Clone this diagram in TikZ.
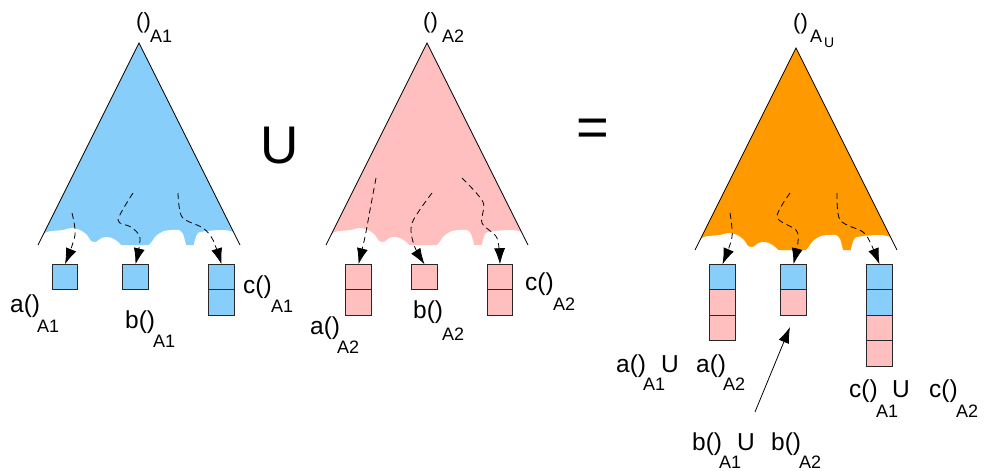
\documentclass[tikz,border=0pt]{standalone}
\usepackage{fontspec}
\setmainfont{Liberation Sans}
\usetikzlibrary{arrows.meta}
\definecolor{skyb}{RGB}{135,206,250}
\definecolor{pinkc}{RGB}{255,191,191}
\definecolor{orangec}{RGB}{255,153,0}
\definecolor{edgec}{RGB}{40,40,40}
\newcommand\coloredtri[3]{%
\begin{scope}[shift={(#1,#2)}]
\fill[#3] (0,0) -- (-101,202) -- (101,202) -- cycle;
\fill[white] plot[smooth, tension=0.5] coordinates {(-104,203) (-94,190) (-86,188) (-76,187) (-67,185) (-59,187) (-52,192) (-48,198) (-43,199) (-39,196) (-34,194) (-27,195) (-21,199) (-14,205) (-4,207) (4,206) (11,201) (17,193) (25,188) (33,187) (40,187) (44,191) (46,198) (48,205) (51,208) (54,205) (56,197) (59,190) (68,188) (84,187) (94,189) (99,195) (103,203)} -- (104,218) -- (-104,218) -- cycle;
\draw[line width=0.8pt] (-101,202) -- (0,0) -- (101,202);
\end{scope}}
\begin{document}
\begin{tikzpicture}[x=1pt,y=-1pt,
  cell/.style={draw=edgec,line width=1pt,minimum width=25.5pt,minimum height=25.5pt,inner sep=0pt,outer sep=0pt},
  blu/.style={cell,fill=skyb},
  pnk/.style={cell,fill=pinkc},
  lbl/.style={inner sep=0pt,anchor=base west,font=\fontsize{24.5}{28}\selectfont},
  sub/.style={inner sep=0pt,anchor=base west,font=\fontsize{18}{21}\selectfont},
  toplbl/.style={inner sep=0pt,anchor=base west,font=\fontsize{22}{26}\selectfont},
  dflow/.style={dashed,dash pattern=on 6pt off 4pt,line width=0.8pt,-{Latex[length=16pt,width=11pt]}},
  sflow/.style={line width=0.8pt,-{Latex[length=16pt,width=11pt]}}]
\useasboundingbox (0,0) rectangle (986,471);
% triangles
\coloredtri{139}{43}{skyb}
\coloredtri{427}{43}{pinkc}
\coloredtri{796}{48}{orangec}
% top labels
\node[toplbl] (r1) at (136,28) {()};
\node[sub] (r1s) at (150,42) {A1};
\node[toplbl] (r2) at (423,28) {()};
\node[sub] (r2s) at (442,42) {A2};
\node[toplbl] (r3) at (793,30) {()};
\node[sub] (r3s) at (810,42) {A};
\node[inner sep=0pt,anchor=base west,font=\fontsize{14}{16}\selectfont] (r3u) at (824,47) {U};
% operators
\node[inner sep=0pt,font=\fontsize{53}{60}\selectfont] (unionop) at (280,146) {U};
\node[inner sep=0pt,font=\fontsize{56}{60}\selectfont] (eqop) at (593,133) {=};
% boxes tri1
\node[blu] (a1) at (65,277) {};
\node[blu] (b1) at (135.5,277) {};
\node[blu] (c1) at (221.5,277) {};
\node[blu] (c1b) at (221.5,302.5) {};
% boxes tri2
\node[pnk] (a2) at (358.5,277) {};
\node[pnk] (a2b) at (358.5,302.5) {};
\node[pnk] (b2) at (424.5,277) {};
\node[pnk] (c2) at (500,277) {};
\node[pnk] (c2b) at (500,302.5) {};
% boxes tri3
\node[blu] (a3) at (722.5,277) {};
\node[pnk] (a3b) at (722.5,302.5) {};
\node[pnk] (a3c) at (722.5,328) {};
\node[blu] (b3) at (793.5,277) {};
\node[pnk] (b3b) at (793.5,302.5) {};
\node[blu] (c3) at (879.5,277) {};
\node[blu] (c3b) at (879.5,302.5) {};
\node[pnk] (c3c) at (879.5,328) {};
\node[pnk] (c3d) at (879.5,353.5) {};
% dashed arrows tri1
\coordinate (sa1) at (72,213);
\coordinate (sb1) at (133,193);
\coordinate (sc1) at (178,193);
\draw[dflow] plot[smooth] coordinates {(sa1) (75,235) (a1.north)};
\draw[dflow] plot[smooth] coordinates {(sb1) (118,220) (131,227) (140,238) (b1.north)};
\draw[dflow] plot[smooth] coordinates {(sc1) (182,217) (203,228) (213,240) (c1.north)};
% tri2
\coordinate (sa2) at (376,178);
\coordinate (sb2) at (432,193);
\coordinate (sc2) at (462,178);
\draw[dflow] plot[smooth] coordinates {(sa2) (370,210) (365,237) (a2.north)};
\draw[dflow] plot[smooth] coordinates {(sb2) (412,223) (414,245) (b2.north)};
\draw[dflow] plot[smooth] coordinates {(sc2) (483,202) (482,223) (497,238) (c2.north)};
% tri3
\coordinate (sa3) at (730,213);
\coordinate (sb3) at (790,193);
\coordinate (sc3) at (837,193);
\draw[dflow] plot[smooth] coordinates {(sa3) (732,237) (a3.north)};
\draw[dflow] plot[smooth] coordinates {(sb3) (777,217) (796,230) (798,242) (b3.north)};
\draw[dflow] plot[smooth] coordinates {(sc3) (840,220) (863,232) (871,244) (c3.north)};
% labels tri1
\node[lbl] (la1) at (10,312) {a()};
\node[sub] (la1s) at (37,332) {A1};
\node[lbl] (lb1) at (125,328) {b()};
\node[sub] (lb1s) at (153,347) {A1};
\node[lbl] (lc1) at (243,293) {c()};
\node[sub] (lc1s) at (271,312) {A1};
% labels tri2
\node[lbl] (la2) at (310,334) {a()};
\node[sub] (la2s) at (337,353) {A2};
\node[lbl] (lb2) at (413,318) {b()};
\node[sub] (lb2s) at (442,340) {A2};
\node[lbl] (lc2) at (525,290) {c()};
\node[sub] (lc2s) at (553,310) {A2};
% labels tri3
\node[lbl] (la3) at (616,372) {a()};
\node[sub] (la3s) at (643,390) {A1};
\node[lbl] (la3u) at (661,372) {U};
\node[lbl] (la3b) at (696,372) {a()};
\node[sub] (la3bs) at (723,390) {A2};
\node[lbl] (lc3) at (849,397) {c()};
\node[sub] (lc3s) at (876,417) {A1};
\node[lbl] (lc3u) at (892,397) {U};
\node[lbl] (lc3b) at (929,397) {c()};
\node[sub] (lc3bs) at (956,417) {A2};
\node[lbl] (lb3) at (692,450) {b()};
\node[sub] (lb3s) at (719,468) {A1};
\node[lbl] (lb3u) at (737,450) {U};
\node[lbl] (lb3b) at (771,450) {b()};
\node[sub] (lb3bs) at (799,468) {A2};
% solid arrow
\coordinate (bfrom) at (755,412);
\coordinate (bto) at (790,327);
\draw[sflow] (bfrom) -- (bto);
\end{tikzpicture}
\end{document}
